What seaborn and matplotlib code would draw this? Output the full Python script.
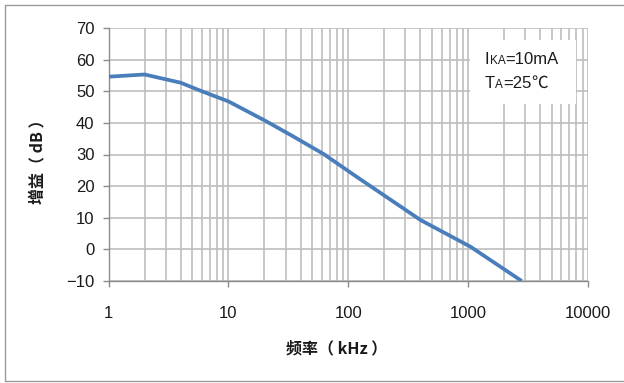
import matplotlib
matplotlib.use("Agg")
import matplotlib.pyplot as plt
from matplotlib.patches import Rectangle
from matplotlib.lines import Line2D
from matplotlib.ticker import LogLocator, FixedLocator, FixedFormatter, NullFormatter
import numpy as np
import pandas as pd
import seaborn as sns

# Gain vs. frequency curve
freq_khz = [1, 2, 4, 6, 10, 20, 33, 62, 117, 400, 1050, 2800]
gain_db = [54.6, 55.3, 52.7, 50.0, 46.8, 40.8, 36.2, 30.2, 23.0, 9.3, 0.8, -10.0]

x_ticks = [1, 10, 100, 1000, 10000]
x_tick_labels = ["1", "10", "100", "1000", "10000"]
y_ticks = [-10, 0, 10, 20, 30, 40, 50, 60, 70]
y_tick_labels = ["\u221210", "0", "10", "20", "30", "40", "50", "60", "70"]

x_label = "频率（ kHz ）"
y_label = "增益（ dB ）"

df = pd.DataFrame({"freq": freq_khz, "gain": gain_db})

sns.set_theme(style="white")
plt.rcParams["font.family"] = ["Liberation Sans", "DejaVu Sans", "Noto Sans CJK SC"]

W, H = 624, 383
fig = plt.figure(figsize=(W / 100, H / 100), dpi=100)
ax = fig.add_axes([108.5 / W, 1 - 281 / H, (588 - 108.5) / W, (281 - 28) / H])

grid_c = "#bebebe"
spine_c = "#8c8c8c"

sns.lineplot(data=df, x="freq", y="gain", ax=ax, color="#4a7ebb", linewidth=2.7,
             zorder=5, solid_capstyle="butt", solid_joinstyle="round")

ax.set_xscale("log")
ax.set_xlim(1, 10000)
ax.set_ylim(-10, 70)

ax.xaxis.set_major_locator(FixedLocator(x_ticks))
ax.xaxis.set_major_formatter(FixedFormatter(x_tick_labels))
ax.xaxis.set_minor_locator(LogLocator(base=10, subs=np.arange(2, 10)))
ax.xaxis.set_minor_formatter(NullFormatter())
ax.yaxis.set_major_locator(FixedLocator(y_ticks))
ax.yaxis.set_major_formatter(FixedFormatter(y_tick_labels))

ax.grid(True, which="major", axis="both", color=grid_c, linewidth=1.2)
ax.grid(True, which="minor", axis="x", color=grid_c, linewidth=1.2)

for side in ("top", "right"):
    ax.spines[side].set_visible(False)
for side in ("left", "bottom"):
    ax.spines[side].set_color(spine_c)
    ax.spines[side].set_linewidth(1.0)

ax.tick_params(axis="x", which="major", direction="out", length=4, width=1.0,
               color=spine_c, pad=14, labelsize=12, labelcolor="#1a1a1a", bottom=True)
ax.tick_params(axis="x", which="minor", length=0)
ax.tick_params(axis="y", which="major", direction="out", length=4, width=1.0,
               color=spine_c, pad=6, labelsize=12, labelcolor="#1a1a1a", left=True)

cjk = ["Noto Sans CJK SC", "DejaVu Sans"]
ax.set_xlabel("")
ax.set_ylabel("")
fig.text(337 / W, 1 - 348 / H, x_label, ha="center", va="center",
         fontsize=11.5, fontweight="bold", family=cjk, color="#1a1a1a")
fig.text(37 / W, 1 - 158 / H, y_label, ha="center", va="center", rotation=90,
         fontsize=11.5, fontweight="bold", family=cjk, color="#1a1a1a")

# Condition box
ax.add_patch(Rectangle((470 / W, 1 - 104 / H), 106 / W, 64 / H, transform=fig.transFigure,
                       facecolor="white", edgecolor="none", zorder=6))

fig.canvas.draw()
renderer = fig.canvas.get_renderer()


def run_text(x_px, y_px, parts):
    x = x_px
    for s, size, fam in parts:
        t = fig.text(x / W, 1 - y_px / H, s, fontsize=size, va="baseline", ha="left",
                     color="#1a1a1a", zorder=7, family=fam)
        bb = t.get_window_extent(renderer)
        x += bb.width


latin = ["Liberation Sans", "DejaVu Sans"]
run_text(485, 64, [("I", 12, latin), ("KA", 8.5, latin), ("=10mA", 12, latin)])
run_text(485, 88, [("T", 12, latin), ("A", 8.5, latin), ("=25", 12, latin),
                   ("\u2103", 12, ["Noto Sans CJK SC", "DejaVu Sans"])])

# Outer frame
frame_c = "#9a9a9a"
fig.add_artist(Line2D([4.5 / W, 4.5 / W], [1 - 4.5 / H, 1 - 380.5 / H], color=frame_c, lw=1.0,
                      transform=fig.transFigure))
fig.add_artist(Line2D([4.5 / W, 1], [1 - 4.5 / H, 1 - 4.5 / H], color=frame_c, lw=1.0,
                      transform=fig.transFigure))
fig.add_artist(Line2D([4.5 / W, 1], [1 - 380.5 / H, 1 - 380.5 / H], color=frame_c, lw=1.0,
                      transform=fig.transFigure))

fig.savefig("out.png", dpi=100, facecolor="white")
